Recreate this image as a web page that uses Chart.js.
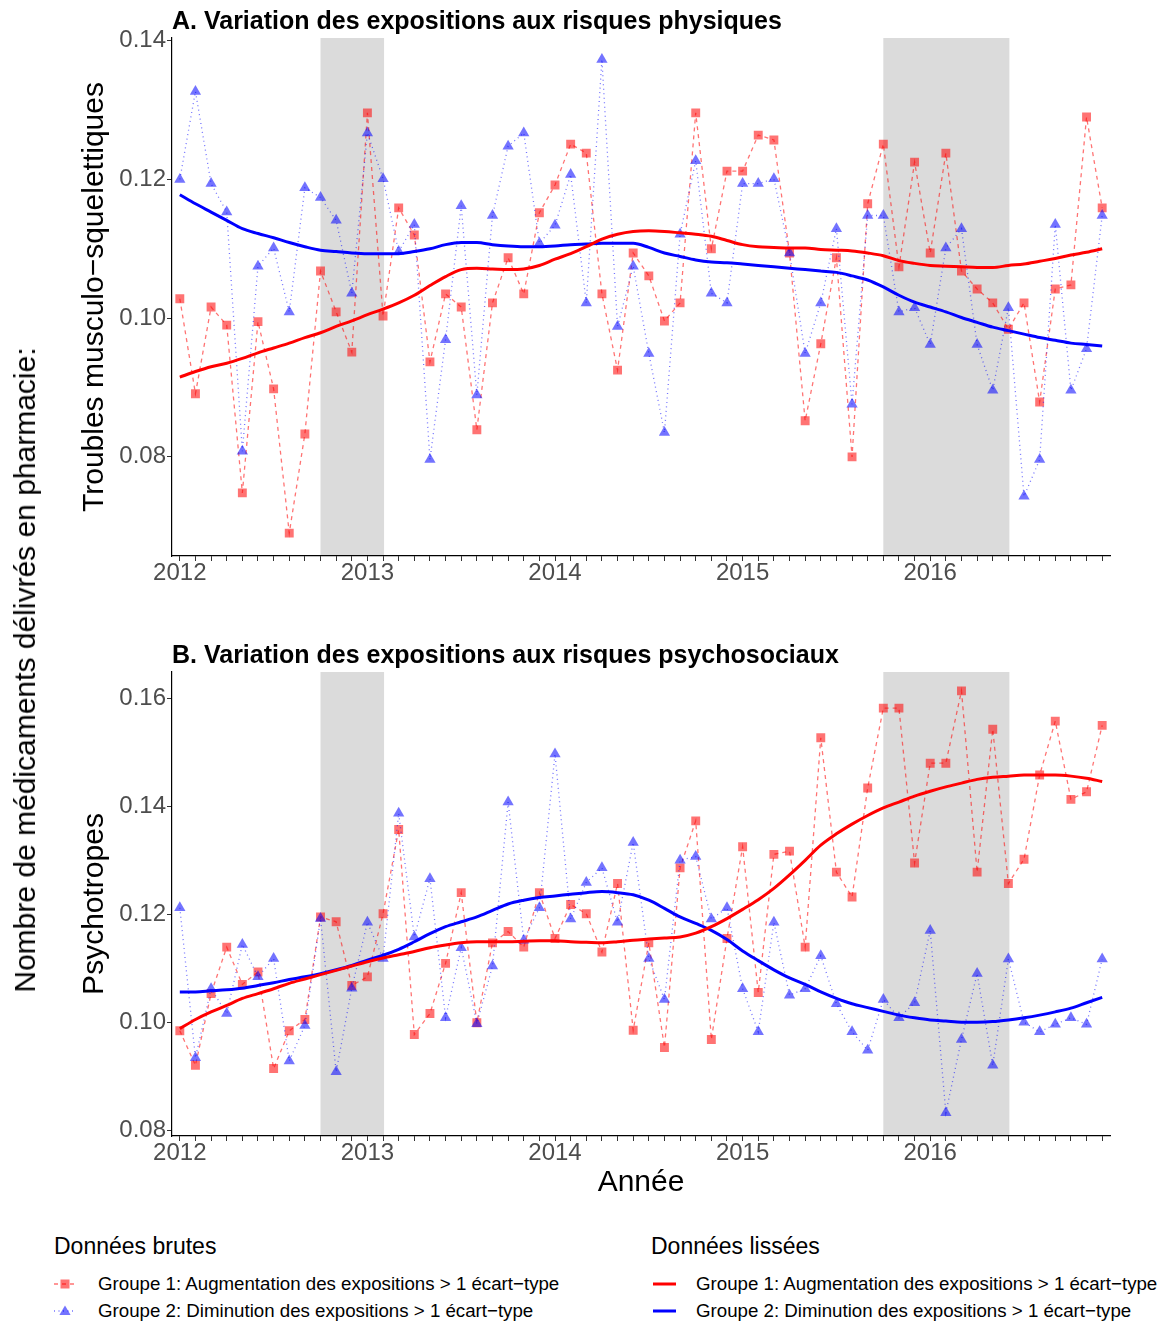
<!DOCTYPE html>
<html lang="fr">
<head>
<meta charset="utf-8">
<title>Médicaments délivrés en pharmacie</title>
<script src="https://cdn.jsdelivr.net/npm/chart.js@4.4.1/dist/chart.umd.min.js"></script>
<style>
  html, body { margin: 0; padding: 0; background: #fff; }
  body { position: relative; width: 1163px; height: 1321px; overflow: hidden;
         font-family: "Liberation Sans", Arial, Helvetica, sans-serif; color: #000; }
  canvas { position: absolute; left: 0; }
  #panneauA { top: 0; }
  #panneauB { top: 600px; }
  .titre-global { position: absolute; left: 25px; top: 670px; font-size: 30px; line-height: 1;
                  white-space: nowrap; transform: translate(-50%, -50%) rotate(-90deg); }
  .leg-titre { position: absolute; font-size: 23px; line-height: 1; white-space: nowrap; transform: translateY(-50%); }
  .leg-item { position: absolute; font-size: 18.7px; line-height: 1; white-space: nowrap; transform: translateY(-50%); }
  .leg-cle { position: absolute; transform: translateY(-50%); display: block; }
</style>
</head>
<body>
<canvas id="panneauA" width="1163" height="600"></canvas>
<canvas id="panneauB" width="1163" height="620"></canvas>
<div class="titre-global">Nombre de médicaments délivrés en pharmacie:</div>

<div class="leg-titre" style="left:54px; top:1246px;">Données brutes</div>
<svg class="leg-cle" style="left:54px; top:1284px;" width="22" height="16">
  <line x1="0" y1="8" x2="22" y2="8" stroke="rgba(255,0,0,0.55)" stroke-width="1.3" stroke-dasharray="4,4"/>
  <rect x="6.5" y="3.5" width="9" height="9" fill="rgba(255,0,0,0.55)"/>
</svg>
<div class="leg-item" style="left:98px; top:1284px;">Groupe 1: Augmentation des expositions &gt; 1 écart−type</div>
<svg class="leg-cle" style="left:54px; top:1311px;" width="22" height="16">
  <line x1="0" y1="8" x2="22" y2="8" stroke="rgba(0,0,255,0.55)" stroke-width="1.3" stroke-dasharray="1,3.5"/>
  <polygon points="11,2.5 16.6,12 5.4,12" fill="rgba(0,0,255,0.55)"/>
</svg>
<div class="leg-item" style="left:98px; top:1311px;">Groupe 2: Diminution des expositions &gt; 1 écart−type</div>

<div class="leg-titre" style="left:651px; top:1246px;">Données lissées</div>
<svg class="leg-cle" style="left:653px; top:1284px;" width="23" height="8">
  <line x1="0" y1="4" x2="23" y2="4" stroke="#ff0000" stroke-width="3"/>
</svg>
<div class="leg-item" style="left:696px; top:1284px;">Groupe 1: Augmentation des expositions &gt; 1 écart−type</div>
<svg class="leg-cle" style="left:653px; top:1311px;" width="23" height="8">
  <line x1="0" y1="4" x2="23" y2="4" stroke="#0000ff" stroke-width="3"/>
</svg>
<div class="leg-item" style="left:696px; top:1311px;">Groupe 2: Diminution des expositions &gt; 1 écart−type</div>

<script>
// Années et mois de la période d'observation (janvier 2012 à décembre 2016)
const years = ['2012', '2013', '2014', '2015', '2016'];
const monthNumbers = ['01', '02', '03', '04', '05', '06', '07', '08', '09', '10', '11', '12'];
const months = years.flatMap(y => monthNumbers.map(m => y + '-' + m));

// Périodes grisées (début, fin)
const periodesGrisees = [['2012-10', '2013-02'], ['2015-10', '2016-06']];

// Graduations des axes verticaux
const ticksTMS = [0.08, 0.10, 0.12, 0.14];
const ticksPsy = [0.08, 0.10, 0.12, 0.14, 0.16];

// A. Troubles musculo-squelettiques
const tmsGroupe1Brut = [
  0.1028, 0.0891, 0.1016, 0.0990, 0.0748, 0.0995, 0.0898, 0.0690, 0.0833, 0.1068, 0.1009, 0.0951,
  0.1296, 0.1003, 0.1159, 0.1120, 0.0937, 0.1035, 0.1016, 0.0839, 0.1022, 0.1087, 0.1035, 0.1152,
  0.1192, 0.1251, 0.1238, 0.1035, 0.0925, 0.1094, 0.1061, 0.0996, 0.1022, 0.1296, 0.1100, 0.1212,
  0.1212, 0.1264, 0.1257, 0.1094, 0.0852, 0.0963, 0.1087, 0.0800, 0.1165, 0.1251, 0.1074, 0.1225,
  0.1094, 0.1238, 0.1068, 0.1042, 0.1022, 0.0984, 0.1022, 0.0879, 0.1042, 0.1048, 0.1290, 0.1159
];
const tmsGroupe2Brut = [
  0.1200, 0.1327, 0.1194, 0.1153, 0.0808, 0.1075, 0.1101, 0.1009, 0.1188, 0.1174, 0.1141, 0.1036,
  0.1267, 0.1201, 0.1096, 0.1135, 0.0796, 0.0969, 0.1162, 0.0889, 0.1148, 0.1248, 0.1267, 0.1108,
  0.1134, 0.1207, 0.1022, 0.1373, 0.0988, 0.1075, 0.0949, 0.0835, 0.1121, 0.1227, 0.1036, 0.1022,
  0.1194, 0.1194, 0.1201, 0.1094, 0.0949, 0.1022, 0.1129, 0.0876, 0.1148, 0.1148, 0.1009, 0.1015,
  0.0962, 0.1101, 0.1129, 0.0962, 0.0896, 0.1015, 0.0743, 0.0796, 0.1135, 0.0896, 0.0956, 0.1148
];
const tmsGroupe1Lisse = [
  0.0915, 0.0923, 0.0930, 0.0935, 0.0942, 0.0950, 0.0957, 0.0964, 0.0972, 0.0979, 0.0988, 0.0996,
  0.1005, 0.1013, 0.1022, 0.1033, 0.1047, 0.1060, 0.1070, 0.1072, 0.1071, 0.1070, 0.1071, 0.1076,
  0.1085, 0.1093, 0.1103, 0.1114, 0.1121, 0.1125, 0.1126, 0.1125, 0.1123, 0.1121, 0.1118, 0.1112,
  0.1106, 0.1103, 0.1102, 0.1101, 0.1101, 0.1099, 0.1098, 0.1097, 0.1094, 0.1090, 0.1083, 0.1079,
  0.1076, 0.1075, 0.1074, 0.1073, 0.1073, 0.1076, 0.1078, 0.1082, 0.1086, 0.1091, 0.1095, 0.1100
];
const tmsGroupe2Lisse = [
  0.1178, 0.1165, 0.1153, 0.1141, 0.1129, 0.1122, 0.1116, 0.1109, 0.1103, 0.1098, 0.1096, 0.1094,
  0.1093, 0.1093, 0.1093, 0.1096, 0.1100, 0.1106, 0.1109, 0.1109, 0.1106, 0.1104, 0.1103, 0.1103,
  0.1104, 0.1106, 0.1107, 0.1108, 0.1108, 0.1108, 0.1102, 0.1094, 0.1089, 0.1084, 0.1081, 0.1080,
  0.1078, 0.1076, 0.1074, 0.1072, 0.1070, 0.1068, 0.1066, 0.1061, 0.1055, 0.1045, 0.1033, 0.1023,
  0.1016, 0.1009, 0.1001, 0.0994, 0.0987, 0.0982, 0.0977, 0.0972, 0.0968, 0.0964, 0.0962, 0.0960
];

// B. Psychotropes
const psyGroupe1Brut = [
  0.0984, 0.0920, 0.1053, 0.1139, 0.1070, 0.1093, 0.0914, 0.0984, 0.1005, 0.1195, 0.1186, 0.1068,
  0.1084, 0.1201, 0.1357, 0.0977, 0.1016, 0.1109, 0.1240, 0.0999, 0.1147, 0.1168, 0.1139, 0.1240,
  0.1155, 0.1218, 0.1201, 0.1130, 0.1257, 0.0985, 0.1147, 0.0953, 0.1286, 0.1373, 0.0968, 0.1155,
  0.1325, 0.1055, 0.1311, 0.1317, 0.1139, 0.1527, 0.1278, 0.1232, 0.1434, 0.1582, 0.1582, 0.1295,
  0.1480, 0.1480, 0.1614, 0.1278, 0.1543, 0.1257, 0.1302, 0.1458, 0.1558, 0.1413, 0.1427, 0.1550
];
const psyGroupe2Brut = [
  0.1212, 0.0934, 0.1062, 0.1016, 0.1144, 0.1084, 0.1118, 0.0928, 0.0994, 0.1192, 0.0908, 0.1063,
  0.1185, 0.1118, 0.1387, 0.1158, 0.1266, 0.1008, 0.1138, 0.0997, 0.1104, 0.1408, 0.1152, 0.1212,
  0.1497, 0.1191, 0.1259, 0.1286, 0.1185, 0.1333, 0.1118, 0.1042, 0.1300, 0.1307, 0.1191, 0.1212,
  0.1062, 0.0982, 0.1185, 0.1050, 0.1062, 0.1123, 0.1034, 0.0982, 0.0948, 0.1042, 0.1008, 0.1036,
  0.1170, 0.0832, 0.0968, 0.1090, 0.0920, 0.1117, 0.1000, 0.0982, 0.0996, 0.1008, 0.0996, 0.1117
];
const psyGroupe1Lisse = [
  0.0988, 0.1005, 0.1019, 0.1031, 0.1044, 0.1053, 0.1062, 0.1072, 0.1080, 0.1088, 0.1096, 0.1104,
  0.1112, 0.1119, 0.1125, 0.1131, 0.1138, 0.1143, 0.1147, 0.1149, 0.1149, 0.1149, 0.1150, 0.1151,
  0.1151, 0.1149, 0.1148, 0.1147, 0.1149, 0.1152, 0.1154, 0.1156, 0.1158, 0.1165, 0.1177, 0.1192,
  0.1209, 0.1227, 0.1248, 0.1273, 0.1300, 0.1328, 0.1349, 0.1367, 0.1383, 0.1397, 0.1408, 0.1419,
  0.1428, 0.1436, 0.1443, 0.1450, 0.1454, 0.1456, 0.1458, 0.1458, 0.1458, 0.1456, 0.1452, 0.1446
];
const psyGroupe2Lisse = [
  0.1056, 0.1056, 0.1058, 0.1060, 0.1063, 0.1068, 0.1073, 0.1079, 0.1084, 0.1090, 0.1097, 0.1105,
  0.1115, 0.1124, 0.1135, 0.1149, 0.1164, 0.1177, 0.1186, 0.1195, 0.1207, 0.1219, 0.1226, 0.1231,
  0.1234, 0.1237, 0.1240, 0.1242, 0.1240, 0.1236, 0.1226, 0.1211, 0.1195, 0.1183, 0.1170, 0.1153,
  0.1132, 0.1114, 0.1097, 0.1082, 0.1070, 0.1056, 0.1044, 0.1034, 0.1027, 0.1020, 0.1013, 0.1008,
  0.1004, 0.1002, 0.1000, 0.1000, 0.1001, 0.1004, 0.1008, 0.1013, 0.1019, 0.1026, 0.1036, 0.1046
];

const ROUGE = '#ff0000';
const BLEU = '#0000ff';
const ROUGE_T = 'rgba(255,0,0,0.55)';
const BLEU_T = 'rgba(0,0,255,0.55)';
const GRIS_TEXTE = '#4d4d4d';

Chart.defaults.font.family = '"Liberation Sans", Arial, Helvetica, sans-serif';

// Bandes grises sous les données
const bandesPlugin = {
  id: 'bandes',
  beforeDraw(chart, args, opts) {
    const { ctx, chartArea: a, scales: { x } } = chart;
    ctx.save();
    ctx.fillStyle = opts.color;
    for (const [debut, fin] of opts.periodes) {
      const x0 = x.getPixelForValue(months.indexOf(debut));
      const x1 = x.getPixelForValue(months.indexOf(fin));
      ctx.fillRect(x0, a.top, x1 - x0 + 1, a.bottom - a.top);
    }
    ctx.restore();
  }
};

// Titre du panneau, aligné sur le bord gauche de la zone de tracé
const titrePanneauPlugin = {
  id: 'titrePanneau',
  afterDraw(chart, args, opts) {
    const { ctx, chartArea: a } = chart;
    ctx.save();
    ctx.font = 'bold 25px "Liberation Sans", Arial, sans-serif';
    ctx.fillStyle = '#000';
    ctx.textAlign = 'left';
    ctx.textBaseline = 'middle';
    ctx.fillText(opts.text, a.left, a.top - 16);
    ctx.restore();
  }
};

function creerPanneau(id, o) {
  return new Chart(document.getElementById(id), {
    type: 'line',
    data: {
      labels: months,
      datasets: [
        { label: 'Groupe 1 lissé', data: o.g1Lisse, borderColor: ROUGE, borderWidth: 3,
          pointRadius: 0, cubicInterpolationMode: 'monotone', fill: false, order: 0 },
        { label: 'Groupe 2 lissé', data: o.g2Lisse, borderColor: BLEU, borderWidth: 3,
          pointRadius: 0, cubicInterpolationMode: 'monotone', fill: false, order: 0 },
        { label: 'Groupe 1 brut', data: o.g1Brut, borderColor: ROUGE_T, borderWidth: 1.3,
          borderDash: [4, 4], pointStyle: 'rect', pointRadius: 6.3,
          pointBackgroundColor: ROUGE_T, pointBorderWidth: 0, fill: false, order: 2 },
        { label: 'Groupe 2 brut', data: o.g2Brut, borderColor: BLEU_T, borderWidth: 1.3,
          borderDash: [1, 3.5], pointStyle: 'triangle', pointRadius: 6.5,
          pointBackgroundColor: BLEU_T, pointBorderWidth: 0, fill: false, order: 1 }
      ]
    },
    options: {
      responsive: false,
      animation: false,
      events: [],
      layout: { padding: { left: 0, right: 53, top: o.haut, bottom: 0 } },
      plugins: {
        legend: { display: false },
        tooltip: { enabled: false },
        bandes: { periodes: periodesGrisees, color: '#dbdbdb' },
        titrePanneau: { text: o.titre }
      },
      scales: {
        x: {
          type: 'category',
          offset: true,
          afterFit: s => { s.height = o.hautX; },
          grid: { drawOnChartArea: false, drawTicks: true, tickLength: 5, tickColor: '#333', tickWidth: 1 },
          border: { display: true, color: '#000', width: 1.2 },
          ticks: {
            autoSkip: false, maxRotation: 0, minRotation: 0, padding: 0, color: GRIS_TEXTE,
            font: { size: 24, lineHeight: 1 },
            callback: (v, i) => (i % 12 === 0 ? years[i / 12] : '')
          },
          title: o.titreX
            ? { display: true, text: o.titreX, color: '#000', font: { size: 30 }, padding: { top: 0, bottom: 19 } }
            : { display: false }
        },
        y: {
          type: 'linear',
          min: o.min, max: o.max,
          afterFit: s => { s.width = 172; },
          afterBuildTicks: s => { s.ticks = o.ticks.map(v => ({ value: v })); },
          grid: { drawOnChartArea: false, drawTicks: true, tickLength: 5, tickColor: '#333', tickWidth: 1 },
          border: { display: true, color: '#000', width: 1.2 },
          ticks: { padding: 1, color: GRIS_TEXTE, font: { size: 24 }, callback: v => v.toFixed(2) },
          title: { display: true, text: o.titreY, color: '#000', font: { size: 30 }, padding: { top: 77, bottom: 0 } }
        }
      }
    },
    plugins: [bandesPlugin, titrePanneauPlugin]
  });
}

creerPanneau('panneauA', {
  titre: 'A. Variation des expositions aux risques physiques',
  titreY: 'Troubles musculo−squelettiques',
  g1Brut: tmsGroupe1Brut, g2Brut: tmsGroupe2Brut,
  g1Lisse: tmsGroupe1Lisse, g2Lisse: tmsGroupe2Lisse,
  min: 0.0657, max: 0.1404, ticks: ticksTMS,
  haut: 38, hautX: 44
});

creerPanneau('panneauB', {
  titre: 'B. Variation des expositions aux risques psychosociaux',
  titreY: 'Psychotropes',
  titreX: 'Année',
  g1Brut: psyGroupe1Brut, g2Brut: psyGroupe2Brut,
  g1Lisse: psyGroupe1Lisse, g2Lisse: psyGroupe2Lisse,
  min: 0.0789, max: 0.1649, ticks: ticksPsy,
  haut: 72, hautX: 84
});
</script>
</body>
</html>
